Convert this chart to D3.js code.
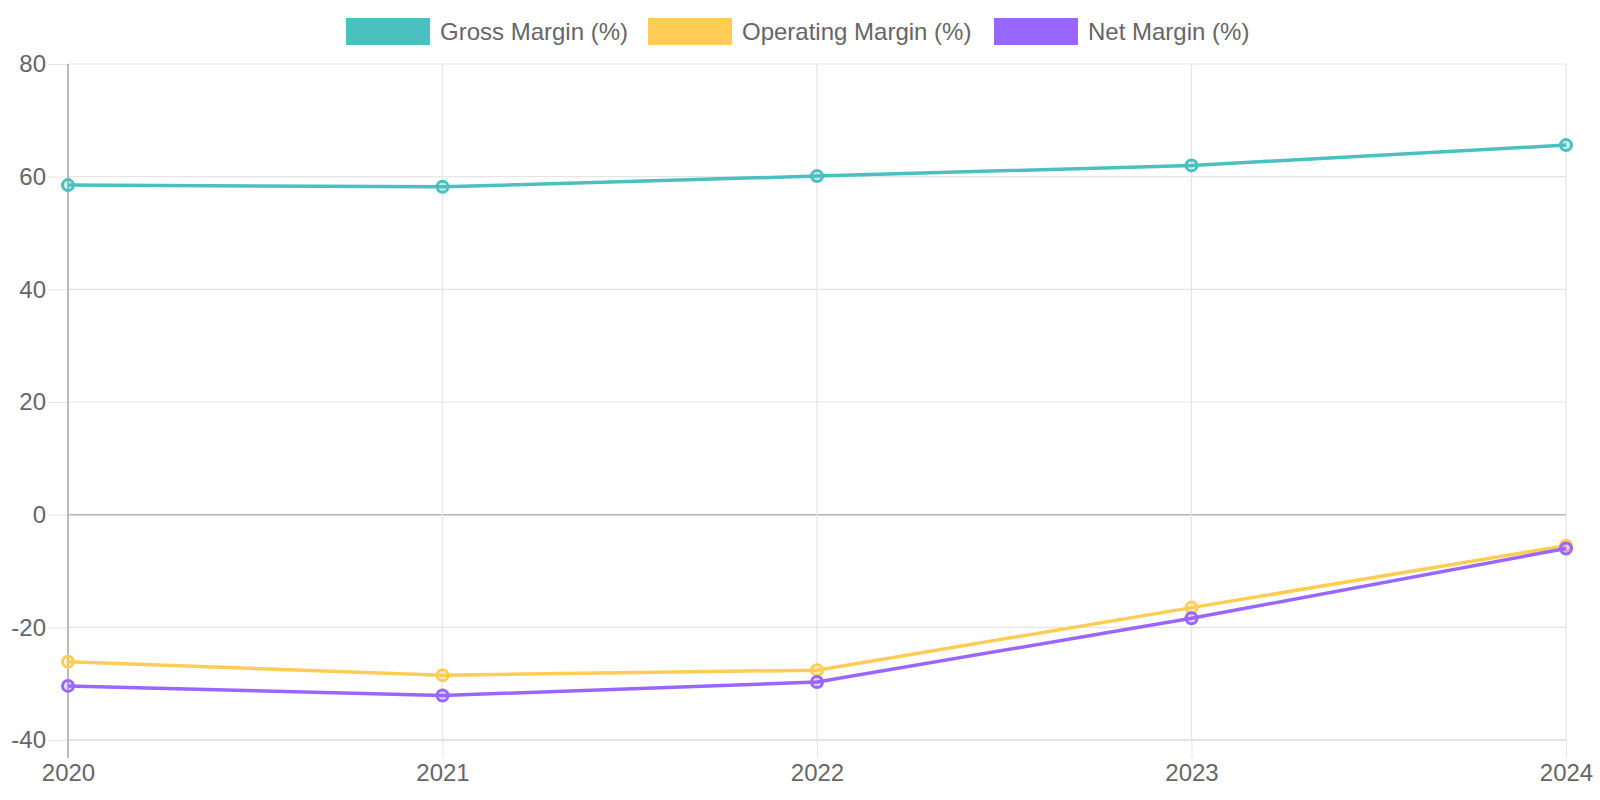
<!DOCTYPE html>
<html>
<head>
<meta charset="utf-8">
<script src="https://cdnjs.cloudflare.com/ajax/libs/d3/7.8.5/d3.min.js"></script>
<style>
  html, body { margin: 0; padding: 0; background: #fff; }
  svg { display: block; font-family: "Liberation Sans", Arial, sans-serif; }
</style>
</head>
<body>
<svg id="chart" width="1600" height="800"></svg>
<script>
var years = ["2020", "2021", "2022", "2023", "2024"];
var grossMargin = [58.5, 58.2, 60.1, 62.0, 65.6];
var operatingMargin = [-26.1, -28.5, -27.6, -16.5, -5.5];
var netMargin = [-30.4, -32.1, -29.7, -18.4, -6.0];
var yTicks = [80, 60, 40, 20, 0, -20, -40];

var series = [
    {name: "Gross Margin (%)", color: "#4BC0C0", values: grossMargin},
    {name: "Operating Margin (%)", color: "#FFCD56", values: operatingMargin},
    {name: "Net Margin (%)", color: "#9966FF", values: netMargin}
];

var LEFT = 68, RIGHT = 1566, TOP = 64, BOTTOM = 740;
var TEXT_COLOR = "#666";

var svg = d3.select("#chart");

var x = d3.scalePoint().domain(years).range([LEFT, RIGHT]);
var y = d3.scaleLinear().domain([-40, 80]).range([BOTTOM, TOP]);

// horizontal grid + y ticks
var yAxis = svg.append("g").attr("transform", "translate(" + LEFT + ",0)")
    .call(d3.axisLeft(y).tickValues(yTicks).tickSize(20).tickPadding(2)
        .tickFormat(function (d) { return String(d); }));
yAxis.select(".domain").remove();
yAxis.selectAll(".tick line").attr("stroke", "#e5e5e5");
yAxis.selectAll(".tick text").attr("fill", TEXT_COLOR).style("font-size", "24px");

svg.append("g").selectAll("line").data(yTicks).enter().append("line")
    .attr("x1", LEFT).attr("x2", RIGHT)
    .attr("y1", function (d) { return y(d); })
    .attr("y2", function (d) { return y(d); })
    .attr("stroke", function (d) { return d === 0 ? "#b4b4b4" : (d === -40 ? "#c8c8c8" : "#e5e5e5"); })
    .attr("stroke-width", function (d) { return d === 0 ? 1.5 : 1.2; });

// vertical grid + x ticks
var xAxis = svg.append("g").attr("transform", "translate(0," + BOTTOM + ")")
    .call(d3.axisBottom(x).tickSize(18).tickPadding(6));
xAxis.select(".domain").remove();
xAxis.selectAll(".tick line").attr("stroke", "#e5e5e5");
xAxis.selectAll(".tick text").attr("fill", TEXT_COLOR).style("font-size", "24px");

svg.append("g").selectAll("line").data(years).enter().append("line")
    .attr("x1", function (d) { return x(d); })
    .attr("x2", function (d) { return x(d); })
    .attr("y1", TOP).attr("y2", BOTTOM)
    .attr("stroke", "#e5e5e5").attr("stroke-width", 1.2);

// y axis line
svg.append("line").attr("x1", LEFT).attr("x2", LEFT).attr("y1", TOP).attr("y2", BOTTOM + 18)
    .attr("stroke", "#a8a8a8").attr("stroke-width", 1.5);

// lines and points
var line = d3.line()
    .x(function (d, i) { return x(years[i]); })
    .y(function (d) { return y(d); });

series.forEach(function (s) {
    var g = svg.append("g");
    g.append("path").datum(s.values)
        .attr("d", line)
        .attr("fill", "none")
        .attr("stroke", s.color)
        .attr("stroke-width", 3.5);
    g.selectAll("circle").data(s.values).enter().append("circle")
        .attr("cx", function (d, i) { return x(years[i]); })
        .attr("cy", function (d) { return y(d); })
        .attr("r", 5.5)
        .attr("fill", s.color).attr("fill-opacity", 0.25)
        .attr("stroke", s.color)
        .attr("stroke-width", 3);
});

// legend
var legendX = [346, 648, 994];
var legend = svg.append("g");
series.forEach(function (s, i) {
    legend.append("rect")
        .attr("x", legendX[i]).attr("y", 18)
        .attr("width", 84).attr("height", 27)
        .attr("fill", s.color);
    legend.append("text")
        .attr("x", legendX[i] + 94).attr("y", 32)
        .attr("dy", "0.35em")
        .attr("fill", TEXT_COLOR)
        .style("font-size", "24px")
        .text(s.name);
});
</script>
</body>
</html>
